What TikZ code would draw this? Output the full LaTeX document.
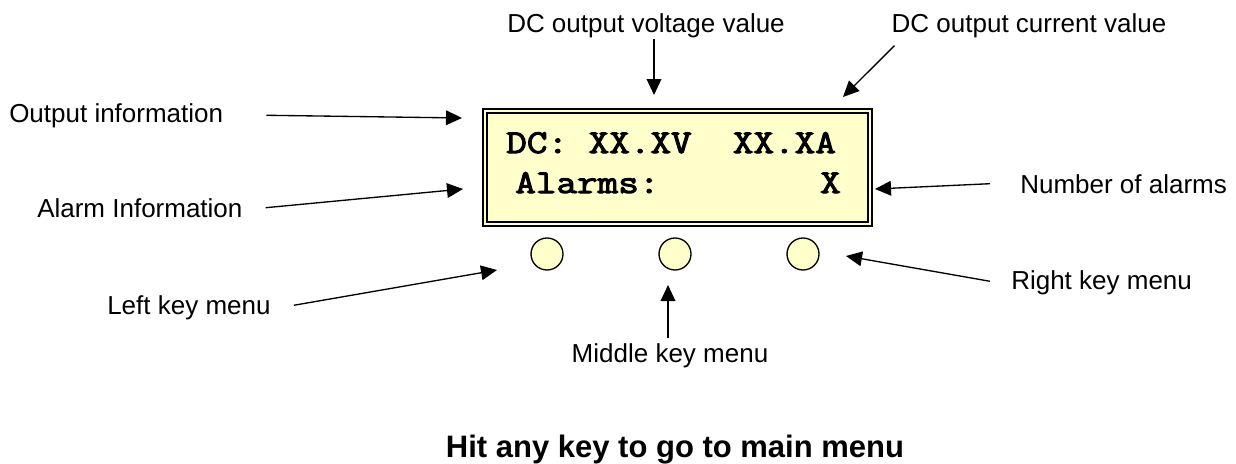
\documentclass[tikz,border=0pt]{standalone}
\usepackage{fontspec}
\setmainfont{Liberation Sans}
\newfontfamily\lcdfont{Latin Modern Mono}[AutoFakeBold=3.2, FakeStretch=1.2]
\usetikzlibrary{arrows.meta,calc}

\definecolor{lcdyellow}{HTML}{FFFFCC}

\tikzset{
  lbl/.style={inner sep=0pt, font=\fontsize{19.5}{23}\selectfont},
  lcdtxt/.style={inner sep=0pt, font=\lcdfont\bfseries\fontsize{25}{30}\selectfont},
  pointer/.style={-{Triangle[length=12pt,width=11pt]}, line width=1pt},
  keybtn/.style={circle, draw, line width=1pt, fill=lcdyellow, minimum size=24pt, inner sep=0pt}
}

\begin{document}
\begin{tikzpicture}[x=0.75pt,y=-0.75pt]
\useasboundingbox (0,0) rectangle (1236,464);

% Display frame
\node[draw, line width=1.5pt, double=lcdyellow, double distance=2pt, fill=lcdyellow,
      minimum width=288.75pt, minimum height=84.75pt, inner sep=0pt] (lcd) at (677.5,167.5) {};

% Display contents
\node[lcdtxt, anchor=base west] (row1) at (506,153) {DC: XX.XV\ \ XX.XA};
\node[lcdtxt, anchor=base west] (row2) at (515,193) {Alarms:};
\node[lcdtxt, anchor=base east] (almcnt) at (841,193) {X};

% Keys
\node[keybtn] (lkey) at (547,254) {};
\node[keybtn] (mkey) at (675,254) {};
\node[keybtn] (rkey) at (803,254) {};

% Labels
\node[lbl, anchor=base] (vlbl) at (646,32) {DC output voltage value};
\node[lbl, anchor=base] (ilbl) at (1029,32) {DC output current value};
\node[lbl, anchor=base west] (outlbl) at (9,122) {Output information};
\node[lbl, anchor=base west] (almlbl) at (37,217) {Alarm Information};
\node[lbl, anchor=base west] (numlbl) at (1020,193) {Number of alarms};
\node[lbl, anchor=base west] (lkeylbl) at (107,314) {Left key menu};
\node[lbl, anchor=base] (mkeylbl) at (670,362) {Middle key menu};
\node[lbl, anchor=base west] (rkeylbl) at (1011,289) {Right key menu};

\node[anchor=base, inner sep=0pt, font=\bfseries\fontsize{23.25}{28}\selectfont] (hint) at (675,457)
  {Hit any key to go to main menu};

% Arrow ends
\coordinate (vtip) at (654,95);
\coordinate (itip) at (843,97);
\coordinate (outtip) at (462,118);
\coordinate (almtip) at (463,189);
\coordinate (numtip) at (875,189);
\coordinate (lkeytip) at (497,270);
\coordinate (mkeytip) at (668,285);
\coordinate (rkeytip) at (846,256);

% Arrows
\draw[pointer, shorten <=1pt] (vlbl.south -| vtip) -- (vtip);
\draw[pointer] ($(ilbl.south west)+(3,8)$) -- (itip);
\draw[pointer] ($(outlbl.east)+(43,0)$) -- (outtip);
\draw[pointer] ($(almlbl.east)+(23,0)$) -- (almtip);
\draw[pointer] ($(numlbl.west)+(-30,0)$) -- (numtip);
\draw[pointer] ($(lkeylbl.east)+(23,-2)$) -- (lkeytip);
\draw[pointer, shorten <=4pt] (mkeylbl.north -| mkeytip) -- (mkeytip);
\draw[pointer] ($(rkeylbl.west)+(-21,-1)$) -- (rkeytip);

\end{tikzpicture}
\end{document}
